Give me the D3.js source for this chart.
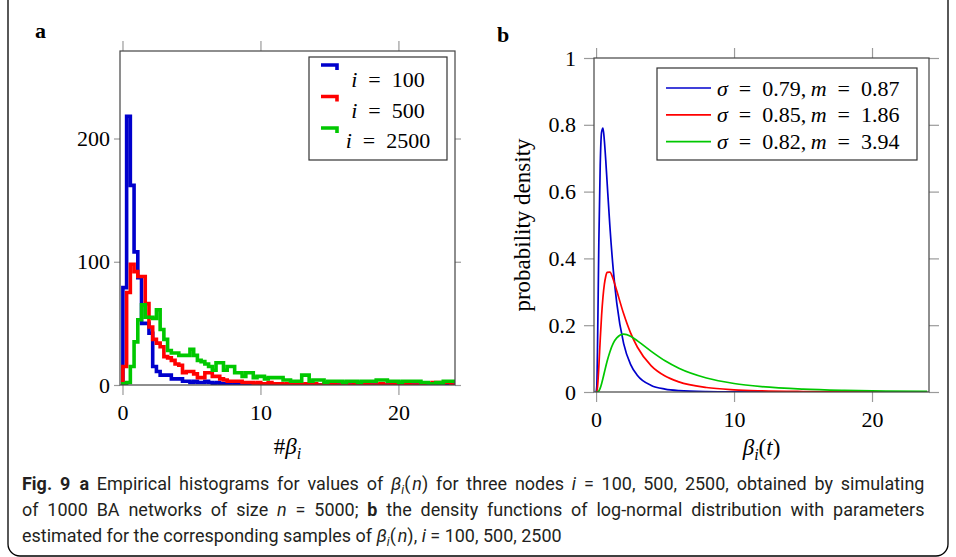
<!DOCTYPE html>
<html>
<head>
<meta charset="utf-8">
<script src="https://cdn.jsdelivr.net/npm/d3@7"></script>
<style>
  body { margin: 0; background: #fff; }
  svg { display: block; }
</style>
</head>
<body>
<svg id="fig" width="956" height="557"></svg>
<script>
// ---- panel a: empirical histograms (counts per bin)
const binStart = 0.03;
const binWidth = 0.27;
const nodes = ['100', '500', '2500'];
const counts100 = [79, 218, 162, 108, 87, 50, 50, 42, 15, 11, 8, 8, 8, 5, 5, 5, 3, 3, 2, 3,
  2, 2, 3, 2, 1, 2, 1, 1, 1, 0, 1, 1, 0, 1, 0, 0, 1, 0, 0, 0,
  0, 0, 0, 0, 0, 0, 0, 0, 0, 0, 0, 0, 0, 0, 0, 0, 0, 0, 0, 0,
  0, 0, 0, 0, 0, 0, 0, 0, 0, 0, 0, 0, 0, 0, 0, 0, 0, 0, 0, 0,
  0, 0, 0, 0, 0, 0, 0, 0, 0, 0];
const counts500 = [15, 75, 98, 92, 88, 88, 66, 47, 37, 34, 31, 23, 22, 20, 17, 16, 10, 11, 11, 9,
  6, 6, 10, 10, 7, 7, 5, 4, 3, 3, 3, 3, 2, 2, 2, 1, 2, 1, 1, 2,
  1, 1, 1, 0, 1, 1, 0, 1, 0, 1, 0, 1, 0, 0, 1, 0, 1, 0, 0, 1,
  0, 0, 1, 0, 0, 1, 0, 0, 0, 1, 0, 0, 1, 0, 0, 0, 1, 0, 0, 0,
  1, 0, 0, 2, 2, 1, 2, 2, 0, 0];
const counts2500 = [1, 2, 15, 35, 53, 65, 55, 55, 54, 61, 45, 37, 28, 26, 26, 24, 24, 24, 29, 24,
  20, 19, 17, 15, 12, 18, 18, 12, 15, 15, 10, 10, 7, 10, 10, 6, 7, 7, 5, 6,
  6, 6, 6, 4, 4, 3, 3, 3, 8, 8, 3, 4, 4, 4, 2, 3, 3, 3, 3, 2,
  3, 3, 3, 2, 3, 3, 3, 3, 4, 4, 4, 3, 3, 3, 2, 3, 3, 3, 3, 3,
  2, 2, 1, 1, 2, 1, 3, 3, 3, 3];
const histTicksX = [0, 10, 20];
const histTicksY = [0, 100, 200];

// ---- panel b: log-normal densities
const sigmas = ['0.79', '0.85', '0.82'];
const medians = ['0.87', '1.86', '3.94'];
const densX = [0, 0.05, 0.1, 0.2, 0.3, 0.4, 0.5, 0.6, 0.7, 0.8, 1, 1.25, 1.5, 2, 2.5, 3, 4, 5, 6, 8, 10, 12, 15, 18, 21, 24];
const densA = [0, 0.0146, 0.119, 0.447, 0.678, 0.778, 0.790, 0.753, 0.695, 0.628, 0.497, 0.364, 0.266, 0.145, 0.0828, 0.0493, 0.0196, 0.0087, 0.0042, 0.0012, 0.0004, 0.0002, 0.00005, 0, 0, 0];
const densB = [0, 0.0011, 0.0127, 0.0752, 0.156, 0.229, 0.284, 0.322, 0.346, 0.358, 0.359, 0.337, 0.303, 0.234, 0.177, 0.134, 0.0782, 0.0477, 0.0303, 0.0135, 0.0066, 0.0035, 0.0015, 0.0007, 0.0004, 0.0002];
const densC = [0, 0, 0.0002, 0.0033, 0.0117, 0.0249, 0.041, 0.0582, 0.0755, 0.0919, 0.120, 0.146, 0.162, 0.173, 0.167, 0.153, 0.1216, 0.0933, 0.0711, 0.0419, 0.0255, 0.0161, 0.0086, 0.0049, 0.0029, 0.0018];
const densTicksX = [0, 10, 20];
const densTicksY = [0, 0.2, 0.4, 0.6, 0.8, 1];
const densTickLabels = ['0', '0.2', '0.4', '0.6', '0.8', '1'];

const colors = ['#0000cc', '#ff0000', '#00c800'];
const serif = '"Liberation Serif", "DejaVu Serif", serif';
const sans = '"Liberation Sans Narrow", "Roboto", "Open Sans", sans-serif';

const svg = d3.select('#fig');
const defs = svg.append('defs');

// figure border
svg.append('rect')
  .attr('x', 8).attr('y', -20).attr('width', 940).attr('height', 576).attr('rx', 12)
  .attr('fill', 'none').attr('stroke', '#000').attr('stroke-width', 1.3);

function frameAxes(g, x, y, box, xt, yt, yfmt, yLen, yPad) {
  const tickStyle = sel => {
    sel.select('.domain').remove();
    sel.selectAll('line').attr('stroke', '#9a9a9a').attr('stroke-width', 1.2);
    sel.selectAll('text').attr('font-family', serif).attr('font-size', 22).attr('fill', '#000');
  };
  g.append('g').attr('transform', `translate(0,${box.bottom})`)
    .call(d3.axisBottom(x).tickValues(xt).tickSize(10).tickPadding(9).tickFormat(d3.format('d')))
    .call(tickStyle);
  g.append('g').attr('transform', `translate(0,${box.top})`)
    .call(d3.axisTop(x).tickValues(xt).tickSize(10).tickFormat(''))
    .call(tickStyle);
  g.append('g').attr('transform', `translate(${box.left},0)`)
    .call(d3.axisLeft(y).tickValues(yt).tickSize(yLen).tickPadding(yPad).tickFormat(yfmt))
    .call(tickStyle);
  g.append('g').attr('transform', `translate(${box.right},0)`)
    .call(d3.axisRight(y).tickValues(yt).tickSize(yLen).tickFormat(''))
    .call(tickStyle);
  g.append('rect')
    .attr('x', box.left).attr('y', box.top)
    .attr('width', box.right - box.left).attr('height', box.bottom - box.top)
    .attr('fill', 'none').attr('stroke', '#444').attr('stroke-width', 1.2);
}

// ================= panel a =================
const boxA = {left: 120, right: 455, top: 51, bottom: 385};
const xA = d3.scaleLinear().domain([-0.18, 24.1]).range([boxA.left, boxA.right]);
const yA = d3.scaleLinear().domain([0, 271]).range([boxA.bottom, boxA.top]);
const gA = svg.append('g');

defs.append('clipPath').attr('id', 'clipA')
  .append('rect').attr('x', boxA.left).attr('y', boxA.top)
  .attr('width', boxA.right - boxA.left).attr('height', boxA.bottom - boxA.top);

const stepLine = d3.line().x(d => xA(d[0])).y(d => yA(d[1])).curve(d3.curveStepAfter);
const histPoints = counts => {
  const n = counts.length;
  const edge = i => binStart + i * binWidth;
  const pts = [[edge(0), 0]];
  counts.forEach((c, i) => pts.push([edge(i), c]));
  pts.push([edge(n), counts[n - 1]], [edge(n), 0]);
  return pts;
};

gA.append('g').attr('clip-path', 'url(#clipA)')
  .selectAll('path')
  .data([counts100, counts500, counts2500])
  .join('path')
  .attr('d', d => stepLine(histPoints(d)))
  .attr('fill', 'none')
  .attr('stroke', (d, i) => colors[i])
  .attr('stroke-width', 3.6)
  .attr('stroke-linejoin', 'miter');

frameAxes(gA, xA, yA, boxA, histTicksX, histTicksY, d3.format('d'), 6, 4);

// legend a
const legA = gA.append('g');
legA.append('rect').attr('x', 309).attr('y', 57).attr('width', 138).attr('height', 103)
  .attr('fill', '#fff').attr('stroke', '#333').attr('stroke-width', 1.2);
nodes.forEach((n, i) => {
  const yi = 65 + i * 31.5;
  legA.append('path').attr('d', `M321,${yi}H337V${yi + 5}`)
    .attr('fill', 'none').attr('stroke', colors[i]).attr('stroke-width', 3.6);
  const t = legA.append('text').attr('x', 388).attr('y', 87 + i * 30.5)
    .attr('text-anchor', 'middle').attr('font-family', serif).attr('font-size', 22);
  t.append('tspan').attr('font-style', 'italic').text('i');
  t.append('tspan').text('\u2002=\u2002' + n);
});

// axis title a
const tA = gA.append('text').attr('x', (boxA.left + boxA.right) / 2).attr('y', 454)
  .attr('text-anchor', 'middle').attr('font-family', serif).attr('font-size', 23);
tA.append('tspan').text('#');
tA.append('tspan').attr('font-style', 'italic').text('\u03b2');
tA.append('tspan').attr('font-style', 'italic').attr('font-size', 16).attr('dy', 5).text('i');

svg.append('text').attr('x', 35).attr('y', 38).attr('font-family', serif)
  .attr('font-weight', 'bold').attr('font-size', 22).text('a');

// ================= panel b =================
const boxB = {left: 594, right: 929, top: 58, bottom: 392};
const xB = d3.scaleLinear().domain([-0.15, 24.13]).range([boxB.left, boxB.right]);
const yB = d3.scaleLinear().domain([0, 1]).range([boxB.bottom, boxB.top]);
const gB = svg.append('g');

defs.append('clipPath').attr('id', 'clipB')
  .append('rect').attr('x', boxB.left).attr('y', boxB.top)
  .attr('width', boxB.right - boxB.left).attr('height', boxB.bottom - boxB.top);

const densLine = d3.line()
  .x((d, i) => xB(densX[i]))
  .y(d => yB(d))
  .curve(d3.curveMonotoneX);

gB.append('g').attr('clip-path', 'url(#clipB)')
  .selectAll('path')
  .data([densA, densB, densC])
  .join('path')
  .attr('d', d => densLine(d))
  .attr('fill', 'none')
  .attr('stroke', (d, i) => colors[i])
  .attr('stroke-width', 1.7);

frameAxes(gB, xB, yB, boxB, densTicksX, densTicksY, (d, i) => densTickLabels[i], 10, 8);

// legend b
const legB = gB.append('g');
legB.append('rect').attr('x', 657).attr('y', 68).attr('width', 260).attr('height', 92)
  .attr('fill', '#fff').attr('stroke', '#333').attr('stroke-width', 1.2);
sigmas.forEach((s, i) => {
  const yi = 88 + i * 26.8;
  legB.append('line').attr('x1', 666).attr('x2', 711).attr('y1', yi).attr('y2', yi)
    .attr('stroke', colors[i]).attr('stroke-width', 1.7);
  const t = legB.append('text').attr('x', 717).attr('y', yi + 7.5)
    .attr('font-family', serif).attr('font-size', 22);
  t.append('tspan').attr('font-style', 'italic').text('\u03c3');
  t.append('tspan').text('\u2002=\u2002' + s + ',\u2009');
  t.append('tspan').attr('font-style', 'italic').text('m');
  t.append('tspan').text('\u2002=\u2002' + medians[i]);
});

// axis titles b
const tB = gB.append('text').attr('x', (boxB.left + boxB.right) / 2).attr('y', 455)
  .attr('text-anchor', 'middle').attr('font-family', serif).attr('font-size', 23);
tB.append('tspan').attr('font-style', 'italic').text('\u03b2');
tB.append('tspan').attr('font-style', 'italic').attr('font-size', 16).attr('dy', 5).text('i');
tB.append('tspan').attr('dy', -5).text('(');
tB.append('tspan').attr('font-style', 'italic').text('t');
tB.append('tspan').text(')');

gB.append('text').attr('transform', `translate(530,${(boxB.top + boxB.bottom) / 2}) rotate(-90)`)
  .attr('text-anchor', 'middle').attr('font-family', serif).attr('font-size', 23)
  .text('probability density');

svg.append('text').attr('x', 497).attr('y', 42).attr('font-family', serif)
  .attr('font-weight', 'bold').attr('font-size', 22).text('b');

// ================= caption =================
const captionLines = [
  [['Fig. 9', 'b'], ['\u2002'], ['a', 'b'], [' Empirical histograms for values of '], ['\u03b2', 'i'], ['i', 'sub'],
   ['(\u200a'], ['n', 'i'], [')'], [' for three nodes '], ['i', 'i'], [' = 100, 500, 2500, obtained by simulating']],
  [['of 1000 BA networks of size '], ['n', 'i'], [' = 5000; '], ['b', 'b'],
   [' the density functions of log-normal distribution with parameters']],
  [['estimated for the corresponding samples of '], ['\u03b2', 'i'], ['i', 'sub'], ['(\u200a'], ['n', 'i'], ['), '],
   ['i', 'i'], [' = 100, 500, 2500']]
];
// last line keeps its natural width; lines 1-2 are justified to 903px
const captionFull = 903;
const lastLineWidth = 540;
const capGroups = captionLines.map((parts, li) => {
  const g = svg.append('g');
  const t = g.append('text').attr('x', 0).attr('y', 0)
    .attr('font-family', sans).attr('font-size', 19).attr('fill', '#231f20');
  let sub = false;
  parts.forEach(([txt, style]) => {
    const s = t.append('tspan').text(txt);
    if (style === 'b') s.attr('font-weight', 'bold');
    if (style === 'i') s.attr('font-style', 'italic');
    if (style === 'sub') { s.attr('font-style', 'italic').attr('font-size', 13).attr('dy', 4); sub = true; }
    else if (sub) { s.attr('dy', -4); sub = false; }
  });
  return {g, t, spaces: parts.map(p => p[0]).join('').split(' ').length - 1};
});
const squeeze = lastLineWidth / capGroups[2].t.node().getComputedTextLength();
capGroups.forEach(({g, t, spaces}, li) => {
  if (li < 2) {
    const natural = t.node().getComputedTextLength();
    const extra = Math.max(0, captionFull / squeeze - natural);
    t.style('word-spacing', `${extra / spaces}px`);
  }
  g.attr('transform', `translate(22,${490 + li * 26}) scale(${squeeze},1)`);
});
</script>
</body>
</html>
